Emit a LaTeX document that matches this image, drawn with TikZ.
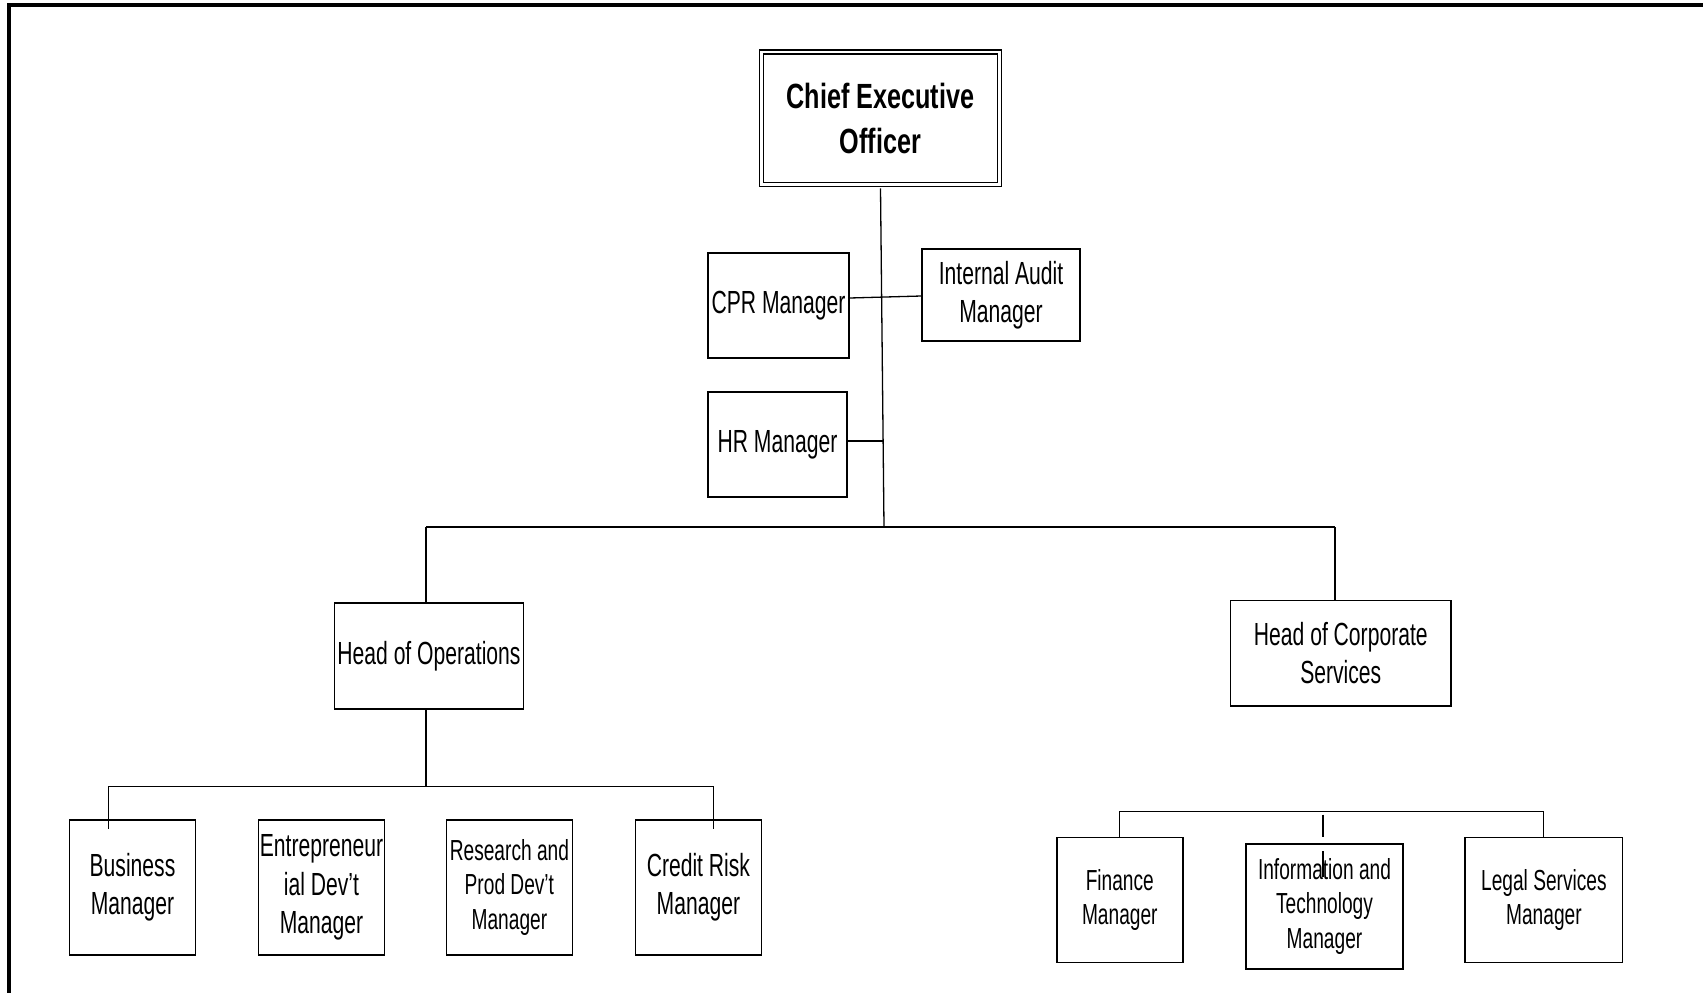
\documentclass[tikz,border=0pt]{standalone}
\usepackage{fontspec}
\setmainfont{Liberation Sans}[FakeStretch=0.66]
\newfontfamily\ceofont{Liberation Sans}[FakeStretch=0.72]
\usetikzlibrary{calc}
\begin{document}
\begin{tikzpicture}[x=1pt,y=-1pt,
  box/.style={draw, line width=1.5pt, rectangle, inner sep=0pt, align=center,
    font=\fontsize{32}{38.4}\selectfont},
  sbox/.style={box, font=\fontsize{29}{34.4}\selectfont},
  conn/.style={line width=1.3pt}]
\useasboundingbox (0,0) rectangle (1703,993);
% frame
\draw[line width=4pt] (9,1010) -- (9,5) -- (1720,5);
% CEO
\node[draw, double, line width=1.6pt, double distance=2.6pt, inner sep=0pt,
  minimum width=238, minimum height=132.5, align=center,
  font=\ceofont\bfseries\fontsize{35}{45}\selectfont] (ceo) at (880.5,118.25) {Chief Executive\\Officer};
% staff
\node[box, minimum width=141, minimum height=105] (cpr) at (778.5,305.5) {CPR Manager};
\node[box, minimum width=158, minimum height=92] (ia) at (1001,295) {Internal Audit\\Manager};
\node[box, minimum width=139, minimum height=105] (hr) at (777.5,444.5) {HR Manager};
% heads
\node[box, minimum width=189, minimum height=106.4] (hoo) at (429,656) {Head of Operations};
\node[box, minimum width=220.4, minimum height=105.4] (hcs) at (1340.8,653.3) {Head of Corporate\\Services};
% operations row
\node[box, minimum width=126, minimum height=134.7] (biz) at (132.5,887.4) {Business\\Manager};
\node[box, minimum width=126, minimum height=134.7] (ent) at (321.5,887.4) {Entrepreneur\\ial Dev’t\\Manager};
\node[sbox, minimum width=126, minimum height=134.7] (rpd) at (509.4,887.4) {Research and\\Prod Dev’t\\Manager};
\node[box, minimum width=126, minimum height=134.7] (crm) at (698.4,887.4) {Credit Risk\\Manager};
% corporate row
\node[sbox, minimum width=126, minimum height=125] (fin) at (1119.8,899.8) {Finance\\Manager};
\node[sbox, minimum width=157.4, minimum height=125] (it) at (1324.5,906.4) {Information and\\Technology\\Manager};
\node[sbox, minimum width=157.4, minimum height=125] (leg) at (1543.9,899.8) {Legal Services\\Manager};
% connectors
\coordinate (bc) at (884,527);
\draw[conn] ($(ceo.south)+(0,3)$) -- (bc);
\draw[conn] ($(cpr.east)+(0,-7.5)$) -- ($(ia.west)+(0,1)$);
\coordinate (hrj) at (883,441);
\draw[conn] (hr.east |- hrj) -- (hrj);
\coordinate (bl) at (426,527);
\coordinate (br) at (1335,527);
\draw[conn] (bl) -- (br);
\draw[conn] (bl) -- (bl |- hoo.north);
\draw[conn] (br) -- (br |- hcs.north);
\coordinate (ob) at (426,786.3);
\coordinate (obl) at (108.6,786.3);
\coordinate (obr) at (713.6,786.3);
\draw[conn] (hoo.south -| ob) -- (ob);
\draw[conn] (obl) -- (obr);
\draw[conn] (obl) -- ($(biz.north -| obl)+(0,10)$);
\draw[conn] (obr) -- ($(crm.north -| obr)+(0,10)$);
\coordinate (rbl) at (1119.8,811.3);
\coordinate (rbr) at (1543.4,811.3);
\coordinate (rbm) at (1322.9,814.5);
\draw[conn] (rbl) -- (rbr);
\draw[conn] (rbl) -- (rbl |- fin.north);
\draw[conn] (rbr) -- (rbr |- leg.north);
\draw[conn] (rbm) -- ($(it.north -| rbm)+(0,-6)$);
\draw[conn] ($(it.north -| rbm)+(0,8)$) -- ($(it.north -| rbm)+(0,34)$);
\end{tikzpicture}
\end{document}
